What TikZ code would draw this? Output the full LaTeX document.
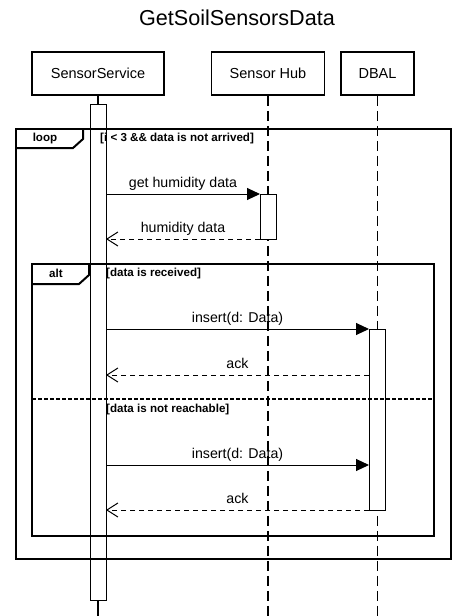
\documentclass[tikz,border=0pt]{standalone}
\usepackage{fontspec}
\setmainfont{Liberation Sans}
\usetikzlibrary{arrows.meta}
\colorlet{FrameLine}{black}
\colorlet{ActivationFill}{white}

\tikzset{
    participant/.style={draw, line width=1.8pt, minimum height=43pt, font=\fontsize{14.5}{17}\selectfont},
    activation/.style={draw, fill=ActivationFill, line width=1pt, minimum width=16pt, inner sep=0pt, outer sep=0pt},
    lifeline/.style={line width=1.2pt, dash pattern=on 10pt off 5pt},
    frame/.style={draw=FrameLine, line width=2pt},
    guard/.style={font=\fontsize{11.6}{13}\selectfont\bfseries, anchor=west, inner sep=0pt},
    call/.style={line width=1pt, -{Triangle[length=13pt, width=12pt]}},
    reply/.style={line width=1pt, dash pattern=on 5pt off 4pt, -{Straight Barb[length=11pt, width=14pt]}},
    msglabel/.style={above=0pt, font=\fontsize{14.2}{16}\selectfont, text height=10pt, text depth=3pt}
}

\begin{document}
\begin{tikzpicture}[x=1pt, y=-1pt]
    \useasboundingbox (0,0) rectangle (475,616);
    \coordinate (Fin) at (0,616);

    \node[font=\fontsize{21.6}{25}\selectfont] (Titulo) at (237,18) {GetSoilSensorsData};

    % Participantes
    \node[participant, minimum width=132pt] (SS) at (98,73.5) {SensorService};
    \node[participant, minimum width=113pt] (SH) at (268,73.5) {Sensor Hub};
    \node[participant, minimum width=73pt] (DB) at (377.5,73.5) {DBAL};

    % Lineas de vida
    \draw[line width=1.2pt] (SS.south) -- (SS.south |- Fin);
    \draw[lifeline] (SH.south) -- (SH.south |- Fin);
    \draw[lifeline] (DB.south) -- (DB.south |- Fin);

    % Barras de activacion
    \node[activation, minimum height=496pt] (A1) at (98,352) {};
    \node[activation, minimum height=45pt] (A2) at (268,216.5) {};
    \node[activation, minimum height=181pt] (A3) at (377,419.5) {};

    % Fragmento loop
    \draw[frame] (16,129) rectangle (451,559);
    \draw[frame] (16,148) -- (73,148) -- (83,139) -- (83,129);
    \node[guard, anchor=center] (LoopTag) at (45,138) {loop};
    \node[guard] (LoopCond) at (100,138) {[i < 3 \&\& data is not arrived]};

    \draw[call] (A1.east |- A2.north) -- (A2.north west)
        node[msglabel, midway] {get humidity data};
    \draw[reply] (A2.south west) -- (A1.east |- A2.south)
        node[msglabel, midway] {humidity data};

    % Fragmento alt
    \draw[frame] (32,264) rectangle (434,536);
    \draw[frame] (32,284) -- (79,284) -- (89,275) -- (89,264);
    \node[guard, anchor=center] (AltTag) at (56,273) {alt};
    \node[guard] (AltCondA) at (106,273) {[data is received]};
    \draw[frame, dash pattern=on 4pt off 2pt] (32,399) -- (434,399);
    \node[guard] (AltCondB) at (106,409) {[data is not reachable]};

    \coordinate (R1) at (369,375);
    \coordinate (C2) at (369,465);

    \draw[call] (A1.east |- A3.north) -- (A3.north west)
        node[msglabel, midway] {insert(d: Data)};
    \draw[reply] (R1) -- (A1.east |- R1)
        node[msglabel, midway] {ack};
    \draw[call] (A1.east |- C2) -- (C2)
        node[msglabel, midway] {insert(d: Data)};
    \draw[reply] (A3.south west) -- (A1.east |- A3.south)
        node[msglabel, midway] {ack};
\end{tikzpicture}
\end{document}
